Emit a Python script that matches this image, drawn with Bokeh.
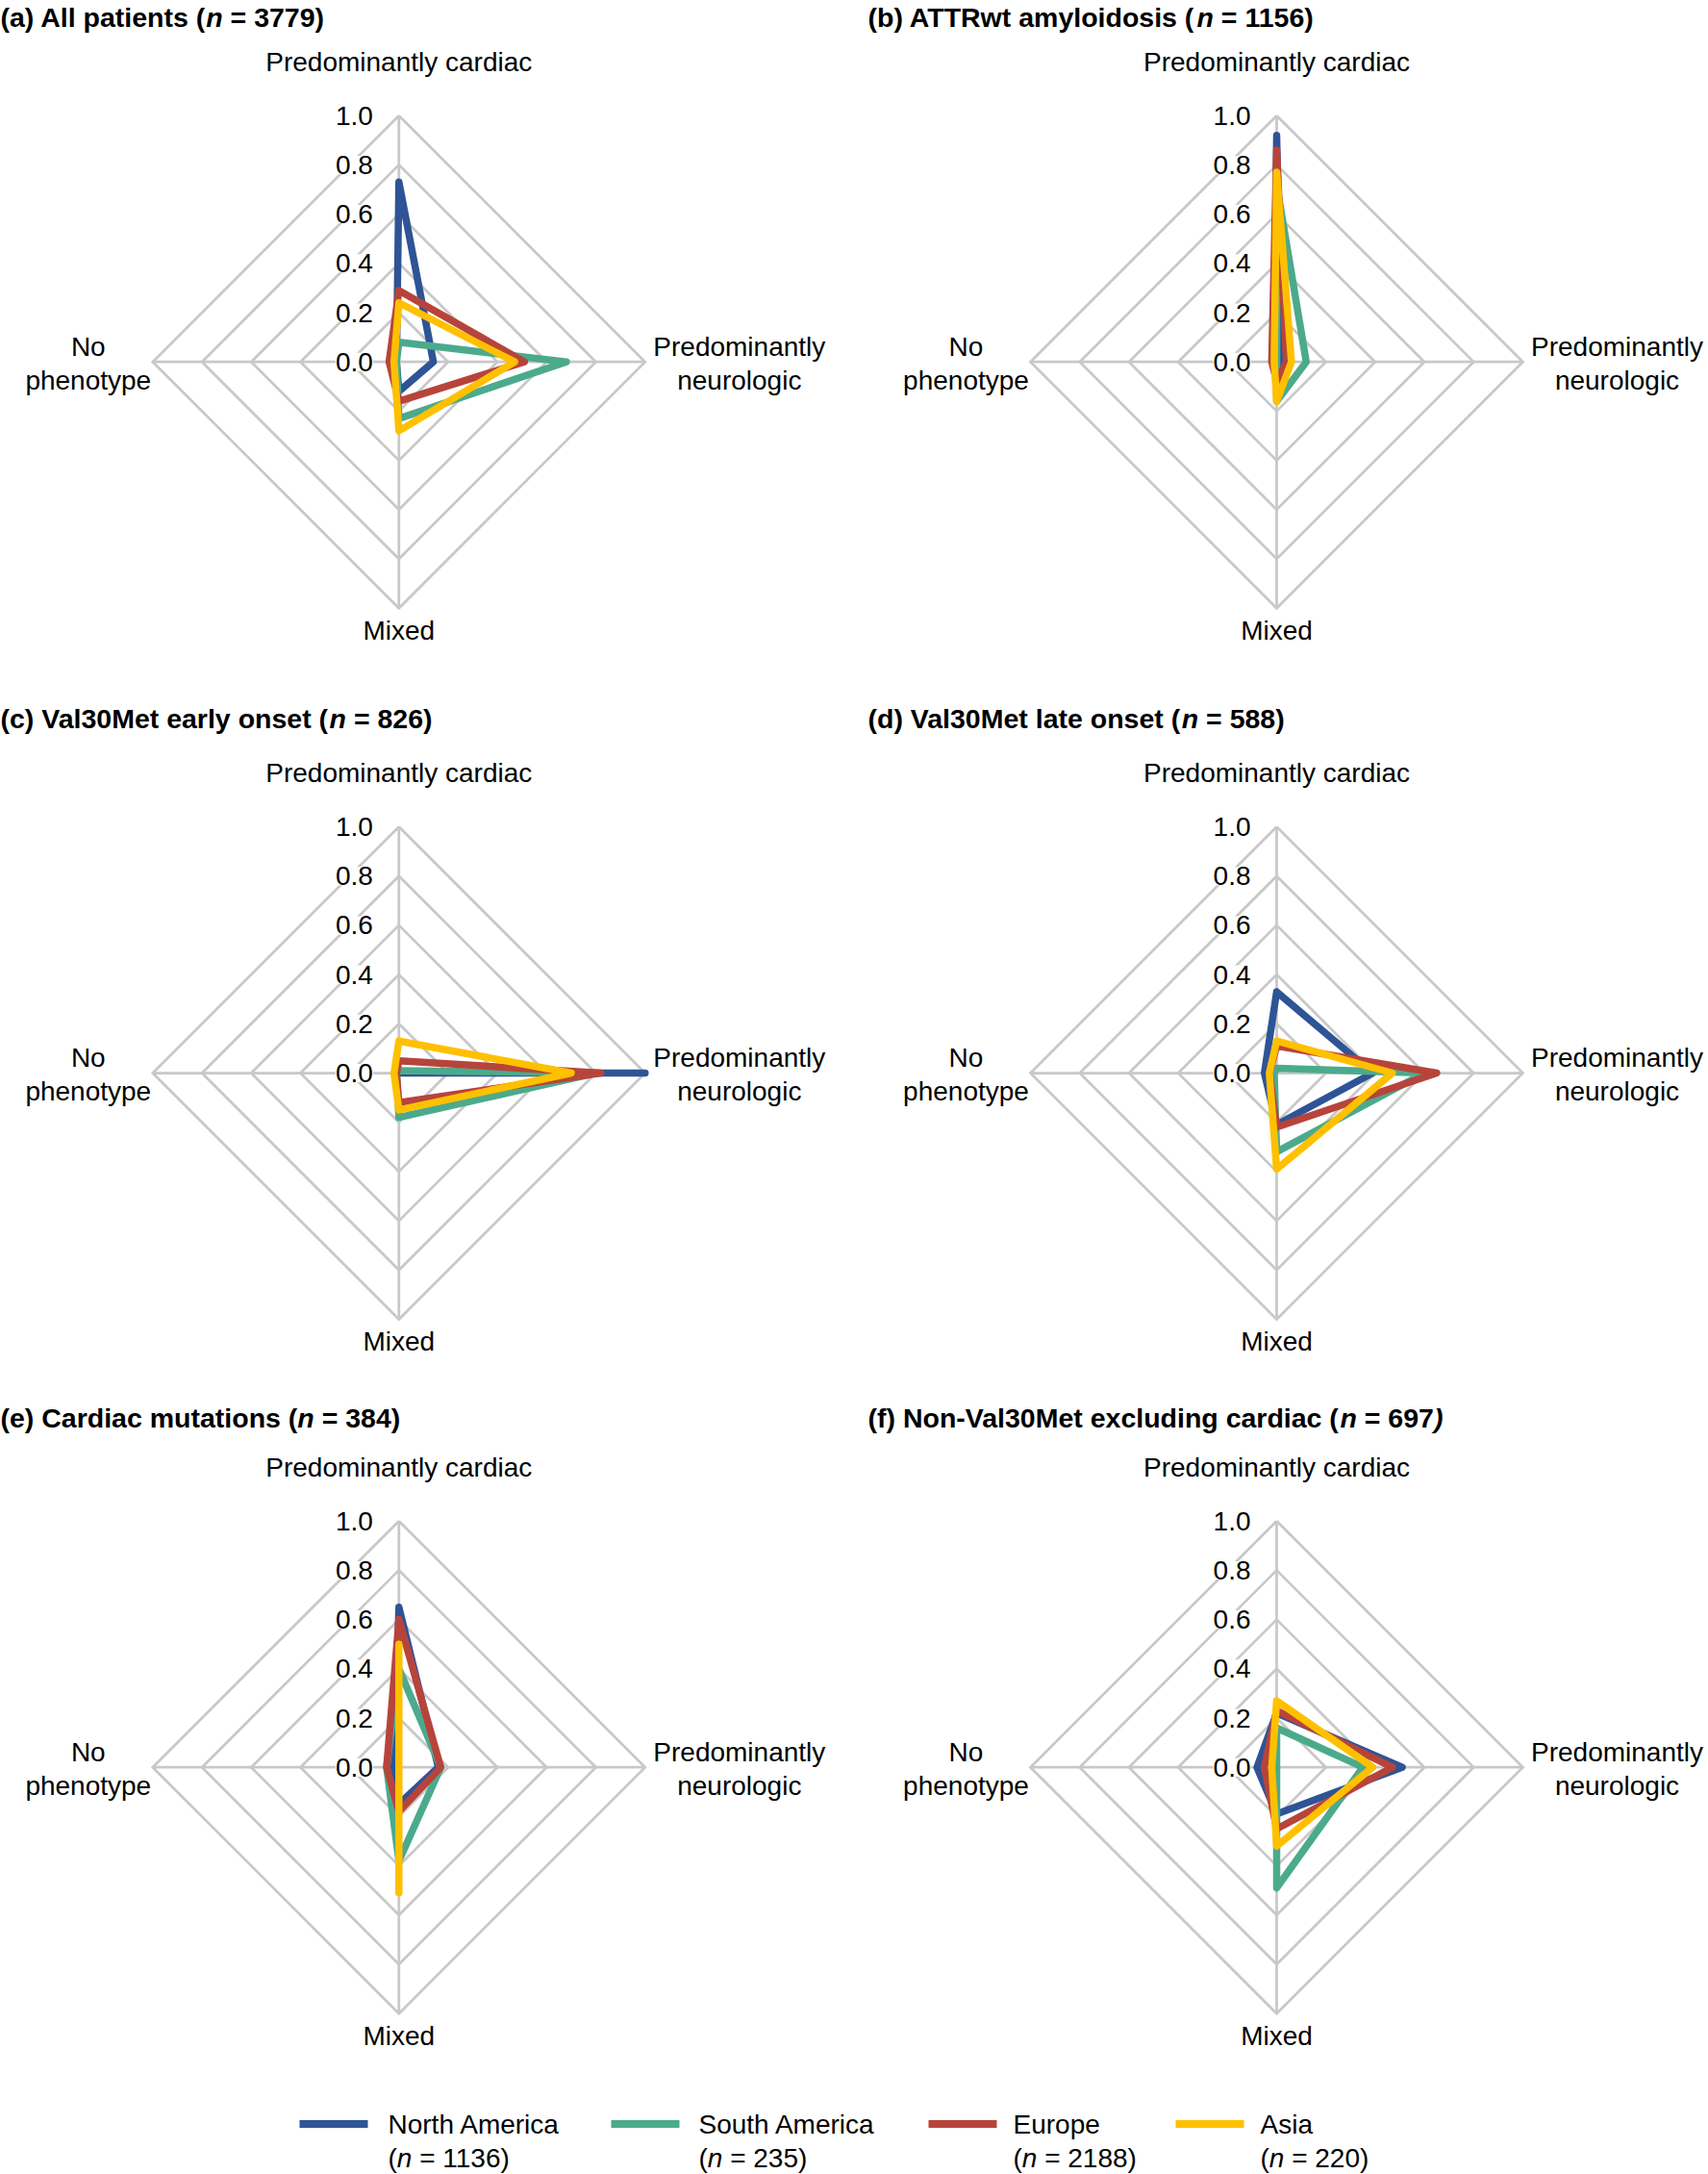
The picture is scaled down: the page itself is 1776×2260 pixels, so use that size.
from bokeh.plotting import figure
from bokeh.layouts import column, row
from bokeh.models import Range1d
from bokeh.core.properties import value
from bokeh.embed import file_html
from bokeh.resources import INLINE

# ---------------- data ----------------
categories = ["Predominantly cardiac", "Predominantly neurologic", "Mixed", "No phenotype"]
regions = ["North America", "South America", "Europe", "Asia"]
region_n = [1136, 235, 2188, 220]
colors = ["#2E5496", "#4CAA8C", "#B7443A", "#FFC000"]
tick_values = [0.0, 0.2, 0.4, 0.6, 0.8, 1.0]
tick_labels = ["0.0", "0.2", "0.4", "0.6", "0.8", "1.0"]

panel_letters = ["a", "b", "c", "d", "e", "f"]
panel_names = ["All patients", "ATTRwt amyloidosis", "Val30Met early onset",
               "Val30Met late onset", "Cardiac mutations", "Non-Val30Met excluding cardiac"]
panel_n = [3779, 1156, 826, 588, 384, 697]

# proportions in order: cardiac, neurologic, mixed, no phenotype
a_north_america = [0.73, 0.14, 0.12, 0.01]
a_south_america = [0.08, 0.68, 0.23, 0.01]
a_europe = [0.29, 0.51, 0.16, 0.04]
a_asia = [0.24, 0.47, 0.28, 0.02]

b_north_america = [0.92, 0.02, 0.05, 0.01]
b_south_america = [0.72, 0.12, 0.16, 0.00]
b_europe = [0.86, 0.04, 0.08, 0.02]
b_asia = [0.77, 0.06, 0.16, 0.01]

c_north_america = [0.00, 1.00, 0.00, 0.00]
c_south_america = [0.01, 0.80, 0.18, 0.01]
c_europe = [0.05, 0.82, 0.12, 0.01]
c_asia = [0.13, 0.70, 0.15, 0.02]

d_north_america = [0.33, 0.39, 0.21, 0.05]
d_south_america = [0.02, 0.60, 0.32, 0.01]
d_europe = [0.11, 0.65, 0.22, 0.03]
d_asia = [0.13, 0.47, 0.39, 0.03]

e_north_america = [0.65, 0.16, 0.15, 0.02]
e_south_america = [0.40, 0.17, 0.38, 0.05]
e_europe = [0.60, 0.17, 0.18, 0.05]
e_asia = [0.50, 0.00, 0.51, 0.00]

f_north_america = [0.22, 0.51, 0.19, 0.08]
f_south_america = [0.16, 0.35, 0.49, 0.00]
f_europe = [0.23, 0.47, 0.25, 0.05]
f_asia = [0.27, 0.39, 0.32, 0.02]

panel_series = [
    [a_north_america, a_south_america, a_europe, a_asia],
    [b_north_america, b_south_america, b_europe, b_asia],
    [c_north_america, c_south_america, c_europe, c_asia],
    [d_north_america, d_south_america, d_europe, d_asia],
    [e_north_america, e_south_america, e_europe, e_asia],
    [f_north_america, f_south_america, f_europe, f_asia],
]

# ---------------- style / layout ----------------
R = 256.0            # pixels for value 1.0
FONT = value("Liberation Sans")
FPX = 28
FS = "%dpx" % FPX
TPX = 28.5
GRID = "#C8C8C8"
NB = "\u00a0"
W = 888
row_h = [730, 725, 720]
row_cy = [375.7, 385.0, 381.7]
col_cx = [414.3, 439.0]
title_x = [0, 14]
title_y = [17, 16, 18]
LEG_H = 84

# Arial / Liberation Sans advance widths (1/1000 em)
AR = {' ': 278, NB: 278, '(': 333, ')': 333, '=': 584, 'n': 556}
AR.update({d: 556 for d in "0123456789"})
AB = {' ': 278, NB: 278, '(': 333, ')': 333, '=': 584, '-': 333,
      'a': 556, 'b': 611, 'c': 556, 'd': 611, 'e': 556, 'f': 333, 'g': 611, 'h': 611,
      'i': 278, 'l': 278, 'm': 889, 'n': 611, 'o': 611, 'p': 611, 'r': 389, 's': 556,
      't': 333, 'u': 611, 'w': 778, 'x': 556, 'y': 556,
      'A': 722, 'C': 722, 'M': 833, 'N': 722, 'R': 722, 'T': 611, 'V': 667}
AB.update({d: 556 for d in "0123456789"})


def tw(s, table, px=FPX):
    return sum(table[ch] for ch in s) * px / 1000.0


def txt(p, x, y, t, align="center", style="normal", size=FS, **kw):
    p.text(x=x, y=y, text=t, text_align=align, text_baseline="middle",
           text_font=FONT, text_font_size=size, text_font_style=style,
           text_color="black", **kw)


def make_panel(i):
    r_, c_ = divmod(i, 2)
    H = row_h[r_]
    cx = col_cx[c_]
    cy = row_cy[r_]
    p = figure(width=W, height=H,
               x_range=Range1d(-cx / R, (W - cx) / R),
               y_range=Range1d(-(H - cy) / R, cy / R),
               output_backend="svg", toolbar_location=None,
               x_axis_location=None, y_axis_location=None,
               min_border=0, outline_line_color=None)
    p.xgrid.grid_line_color = None
    p.ygrid.grid_line_color = None

    # radar grid
    rings = tick_values[1:]
    p.multi_line([[0, v, 0, -v, 0] for v in rings], [[v, 0, -v, 0, v] for v in rings],
                 line_color=GRID, line_width=2.75, line_join="miter")
    vmax = tick_values[-1]
    p.multi_line([[0, 0], [-vmax, vmax]], [[-vmax, vmax], [0, 0]],
                 line_color=GRID, line_width=2.75)

    # value labels with white background
    txt(p, [-27 / R] * len(tick_values), tick_values, tick_labels, align="right",
        background_fill_color="white")

    # series
    for vals, col in zip(panel_series[i], colors):
        card, neuro, mixed, noph = vals
        p.patch([0, neuro, 0, -noph], [card, 0, -mixed, 0], fill_color=None,
                line_color=col, line_width=7.5, line_join="round")

    # category labels
    txt(p, [0], [vmax + 56 / R], [categories[0]])
    txt(p, [0], [-vmax - 23 / R], [categories[2]])
    np_words = categories[3].split(" ")
    txt(p, [-vmax - 67 / R] * 2, [16 / R, -19 / R], np_words)
    nr_words = categories[1].split(" ")
    txt(p, [vmax + 98 / R] * 2, [16 / R, -19 / R], nr_words)

    # title (bold with bold-italic n)
    x0 = -cx / R + title_x[c_] / R
    yt = cy / R - title_y[r_] / R
    pieces = [("(%s) %s (" % (panel_letters[i], panel_names[i]), "bold"), ("n", "bold italic")]
    if panel_letters[i] == "f":
        pieces += [(NB + "=" + NB + "%d" % panel_n[i], "bold"), (")", "bold italic")]
    else:
        pieces += [(NB + "=" + NB + "%d)" % panel_n[i], "bold")]
    cur = 0.0
    for s, st in pieces:
        txt(p, [x0 + cur / R], [yt], [s], align="left", style=st, size="%.1fpx" % TPX)
        cur += tw(s, AB, TPX)
    return p


panels = [make_panel(i) for i in range(6)]

# ---------------- legend ----------------
leg = figure(width=2 * W, height=LEG_H, x_range=Range1d(0, 2 * W), y_range=Range1d(LEG_H, 0),
             output_backend="svg", toolbar_location=None,
             x_axis_location=None, y_axis_location=None,
             min_border=0, outline_line_color=None)
leg.xgrid.grid_line_color = None
leg.ygrid.grid_line_color = None
leg_line_x = [311, 635, 965, 1222]
leg_text_x = [403, 726, 1053, 1310]
for lx, tx, name, n, col in zip(leg_line_x, leg_text_x, regions, region_n, colors):
    leg.segment(x0=[lx], y0=[32.5], x1=[lx + 71], y1=[32.5], line_color=col, line_width=8)
    txt(leg, [tx], [33], [name], align="left")
    cur = 0.0
    for s, st in [("(", "normal"), ("n", "italic"), (NB + "=" + NB + "%d)" % n, "normal")]:
        txt(leg, [tx + cur], [68], [s], align="left", style=st)
        cur += tw(s, AR)

layout = column(row(panels[0], panels[1]), row(panels[2], panels[3]),
                row(panels[4], panels[5]), leg)

open("out.html", "w").write(file_html(layout, INLINE))
